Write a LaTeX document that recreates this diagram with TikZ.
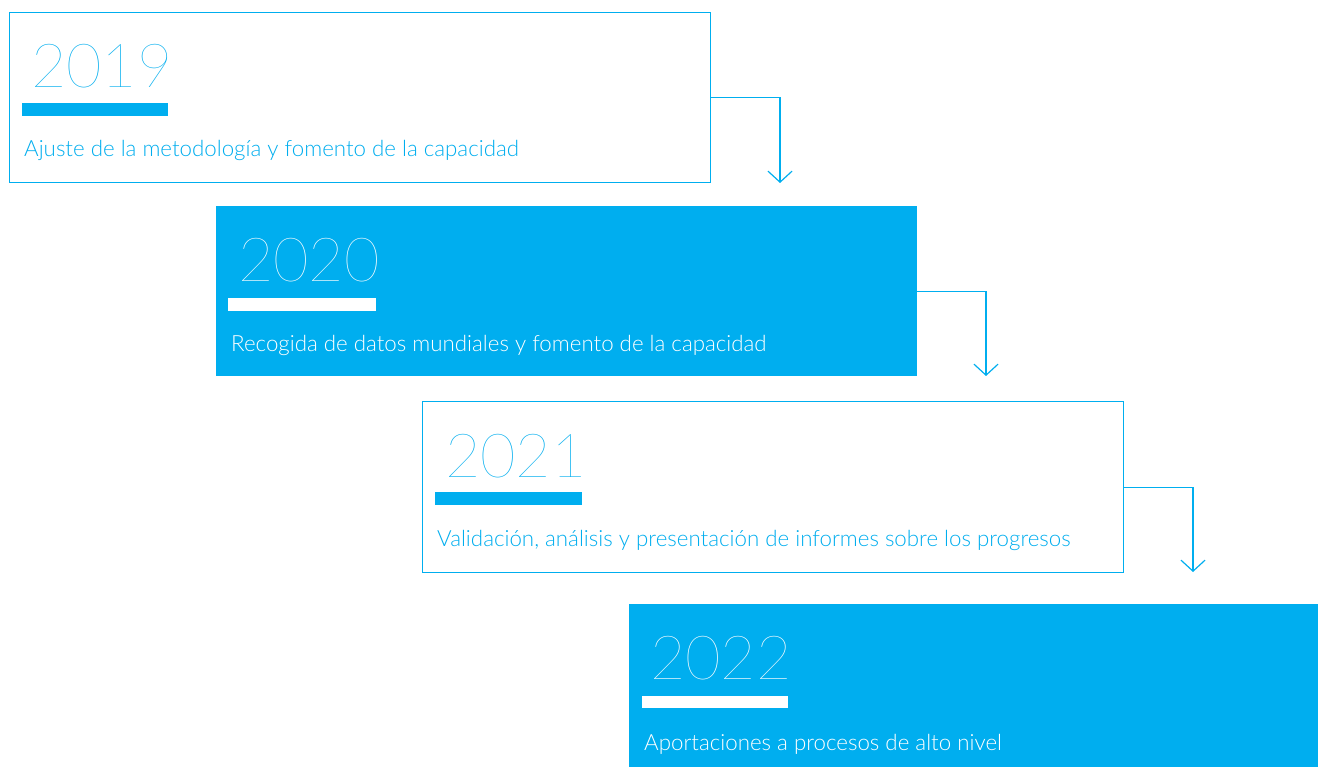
\documentclass[tikz,border=0pt]{standalone}
\usepackage{fontspec}
\setmainfont{Lato Light}
\newfontfamily\yearfont{Lato Thin}
\usetikzlibrary{arrows.meta}
\definecolor{cyanbrand}{HTML}{00AEEF}
\begin{document}
\begin{tikzpicture}[x=1pt,y=-1pt,
  outlinebox/.style={draw=cyanbrand,line width=1.2pt,fill=white,rectangle,anchor=north west,inner sep=0pt},
  filledbox/.style={fill=cyanbrand,draw=none,rectangle,anchor=north west,inner sep=0pt},
  yearlbl/.style={anchor=base west,inner sep=0pt,font=\yearfont\fontsize{61}{61}\selectfont},
  desclbl/.style={anchor=base west,inner sep=0pt,font=\fontsize{22.3}{25}\selectfont},
  barshape/.style={rectangle,anchor=north west,inner sep=0pt,draw=none},
  conn/.style={draw=cyanbrand,line width=1.2pt,-{Straight Barb[length=11pt,width=24pt,line width=1.2pt]}}]
\useasboundingbox (0,0) rectangle (1318,767);
% boxes
\node[outlinebox,minimum width=701pt,minimum height=170pt] (b1) at (9,12) {};
\node[filledbox,minimum width=701pt,minimum height=170pt] (b2) at (216,206) {};
\node[outlinebox,minimum width=701pt,minimum height=171pt] (b3) at (422,401) {};
\node[filledbox,minimum width=689pt,minimum height=163pt] (b4) at (629,604) {};
% bars
\node[barshape,fill=cyanbrand,minimum width=146pt,minimum height=13pt] (r1) at (22,103) {};
\node[barshape,fill=white,minimum width=148pt,minimum height=13pt] (r2) at (228,298) {};
\node[barshape,fill=cyanbrand,minimum width=147pt,minimum height=13pt] (r3) at (435,492) {};
\node[barshape,fill=white,minimum width=146pt,minimum height=12pt] (r4) at (642,696) {};
% years
\node[yearlbl,text=cyanbrand] (y1) at (31,88) {2019};
\node[yearlbl,text=white] (y2) at (238,282) {2020};
\node[yearlbl,text=cyanbrand] (y3) at (445,477) {2021};
\node[yearlbl,text=white] (y4) at (650,679) {2022};
% descriptions
\node[desclbl,text=cyanbrand] (d1) at (24,157) {Ajuste de la metodología y fomento de la capacidad};
\node[desclbl,text=white] (d2) at (231,352) {Recogida de datos mundiales y fomento de la capacidad};
\node[desclbl,text=cyanbrand] (d3) at (437,546) {Validación, análisis y presentación de informes sobre los progresos};
\node[desclbl,text=white] (d4) at (644,750) {Aportaciones a procesos de alto nivel};
% connectors
\coordinate (e1) at (780,183);
\coordinate (e2) at (986,376);
\coordinate (e3) at (1193,572);
\draw[conn] (b1.east) -| (e1);
\draw[conn] (b2.east) -| (e2);
\draw[conn] (b3.east) -| (e3);
\end{tikzpicture}
\end{document}
